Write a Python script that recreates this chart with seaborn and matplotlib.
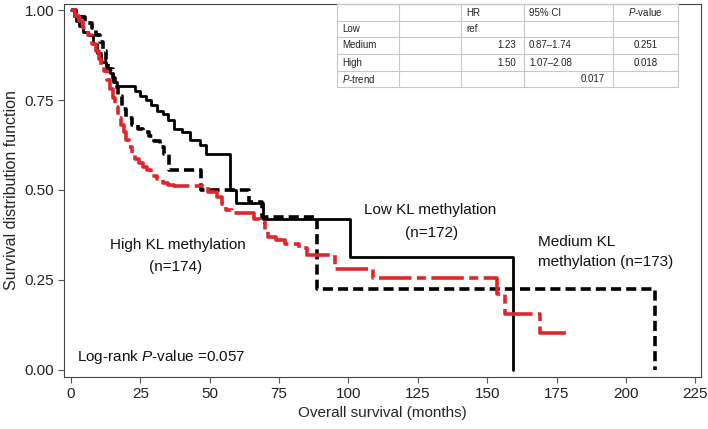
import matplotlib
matplotlib.use("Agg")
import matplotlib.pyplot as plt
import seaborn as sns
from matplotlib.lines import Line2D

# ---- data ----
low_t = [0, 1, 2, 3, 4.5, 6, 8, 9.5, 11, 12.5, 14, 15, 16.5, 23, 25, 27, 29, 31, 33, 35,
         37, 40, 43, 46.5, 48.5, 57.3, 59.5, 69.2, 100.5, 159.3]
low_s = [1.0, 0.985, 0.97, 0.955, 0.94, 0.93, 0.905, 0.88, 0.855, 0.84, 0.825, 0.80, 0.79,
         0.775, 0.76, 0.75, 0.735, 0.72, 0.71, 0.695, 0.67, 0.66, 0.64, 0.625, 0.60, 0.50,
         0.465, 0.42, 0.315, 0.0]

med_t = [0, 2, 3.5, 5, 7.5, 9, 10.5, 11.5, 12.5, 13.5, 15, 16, 17, 18.5, 20, 22, 24, 26, 28,
         30, 32, 33.5, 35.5, 47, 64, 69, 88.6, 210.5]
med_s = [1.0, 0.99, 0.98, 0.965, 0.95, 0.93, 0.91, 0.885, 0.86, 0.835, 0.81, 0.785, 0.76,
         0.725, 0.70, 0.68, 0.67, 0.66, 0.65, 0.635, 0.62, 0.60, 0.555, 0.50, 0.467, 0.425,
         0.225, 0.0]

high_t = [0, 1.5, 3, 4.5, 6, 7.5, 9, 10, 11, 12, 13, 14, 15, 16, 17, 18, 19, 20, 21, 22,
          23, 24.5, 26, 27.5, 29, 31, 33, 35, 37, 49.5, 52.5, 54.5, 56, 58, 66, 68, 70, 71,
          74, 77, 82, 85, 95, 109, 153.5, 156.5, 169, 180]
high_s = [1.0, 0.985, 0.97, 0.95, 0.93, 0.905, 0.885, 0.865, 0.845, 0.83, 0.805, 0.78, 0.755,
          0.73, 0.70, 0.68, 0.66, 0.64, 0.62, 0.60, 0.585, 0.575, 0.565, 0.555, 0.54, 0.53,
          0.52, 0.515, 0.51, 0.495, 0.48, 0.46, 0.445, 0.435, 0.42, 0.41, 0.39, 0.37, 0.36,
          0.35, 0.34, 0.32, 0.28, 0.255, 0.21, 0.155, 0.103, 0.103]

x_ticks = [0, 25, 50, 75, 100, 125, 150, 175, 200, 225]
y_ticks = [0.0, 0.25, 0.5, 0.75, 1.0]
y_labels = ["0.00", "0.25", "0.50", "0.75", "1.00"]

table_header = ["", "", "HR", "95% CI", "$P$-value"]
table_rows = [
    ["Low", "", "ref", "", ""],
    ["Medium", "", "1.23", "0.87\u20131.74", "0.251"],
    ["High", "", "1.50", "1.07\u20132.08", "0.018"],
    ["$P$-trend", "", "", "0.017", ""],
]

# ---- style ----
sns.set_style("white")
plt.rcParams["font.family"] = ["Liberation Sans", "DejaVu Sans"]
plt.rcParams["mathtext.fontset"] = "custom"
plt.rcParams["mathtext.it"] = "Liberation Sans:italic"
plt.rcParams["mathtext.rm"] = "Liberation Sans"

W, H = 708, 429
fig = plt.figure(figsize=(W / 100, H / 100), dpi=100)
ax = fig.add_axes([64 / W, 1 - 377 / H, (701 - 64) / W, (377 - 4) / H])

red = "#e0262b"
sns.lineplot(x=low_t, y=low_s, ax=ax, estimator=None, drawstyle="steps-post",
             color="black", linewidth=2.0)
sns.lineplot(x=med_t, y=med_s, ax=ax, estimator=None, drawstyle="steps-post",
             color="black", linewidth=2.6, linestyle=(0, (2.8, 1.4)), dash_capstyle="butt")
sns.lineplot(x=high_t, y=high_s, ax=ax, estimator=None, drawstyle="steps-post",
             color=red, linewidth=2.6, linestyle=(0, (9, 1.5, 2.5, 1.5)), dash_capstyle="butt")

ax.set_xlim(-2.5, 227)
ax.set_ylim(-0.02, 1.017)
ax.set_xticks(x_ticks)
ax.set_xticklabels([str(v) for v in x_ticks])
ax.set_yticks(y_ticks)
ax.set_yticklabels(y_labels)
ax.tick_params(axis="both", which="both", direction="out", length=4, width=0.8,
               color="#555555", labelsize=11, labelcolor="#222222", pad=3, bottom=True, left=True)
for sp in ax.spines.values():
    sp.set_visible(True)
    sp.set_color("#444444")
    sp.set_linewidth(0.8)
ax.set_xlabel("Overall survival (months)", fontsize=11, labelpad=4)
ax.set_ylabel("Survival distribution function", fontsize=11.5, labelpad=4)
ax.grid(False)

def px(x, y):
    return x / W, 1 - y / H

# annotations
for txt, (x, y), ha in [
    ("Low KL methylation", (430, 210), "center"),
    ("(n=172)", (432, 233), "center"),
    ("High KL methylation", (178, 245), "center"),
    ("(n=174)", (176, 267), "center"),
    ("Medium KL", (538, 242), "left"),
    ("methylation (n=173)", (538, 262), "left"),
    ("Log-rank $P$-value =0.057", (77, 357), "left"),
]:
    fx, fy = px(x, y)
    fig.text(fx, fy, txt, ha=ha, va="center", fontsize=11, color="#111111")

# table
col_edges = [337, 399, 461, 524, 613, 678]
row_edges = [4, 21, 37, 54, 71, 87]
grid_c = "#c8c8c8"
for x in col_edges:
    fig.add_artist(Line2D([x / W, x / W], [1 - row_edges[0] / H, 1 - row_edges[-1] / H],
                          color=grid_c, lw=0.8))
for y in row_edges:
    fig.add_artist(Line2D([col_edges[0] / W, col_edges[-1] / W], [1 - y / H, 1 - y / H],
                          color=grid_c, lw=0.8))

aligns = [
    ["left", "left", "left", "left", "center"],
    ["left", "left", "left", "left", "center"],
    ["left", "left", "right", "left", "center"],
    ["left", "left", "right", "left", "center"],
    ["left", "left", "right", "right", "center"],
]
all_rows = [table_header] + table_rows
for r, row in enumerate(all_rows):
    yc = (row_edges[r] + row_edges[r + 1]) / 2
    for c, val in enumerate(row):
        if not val:
            continue
        a = aligns[r][c]
        if a == "left":
            x = col_edges[c] + 5
        elif a == "right":
            x = col_edges[c + 1] - 8
        else:
            x = (col_edges[c] + col_edges[c + 1]) / 2
        fx, fy = px(x, yc)
        fig.text(fx, fy, val, ha=a, va="center", fontsize=7, color="#222222")

fig.savefig("out.png", dpi=100)
